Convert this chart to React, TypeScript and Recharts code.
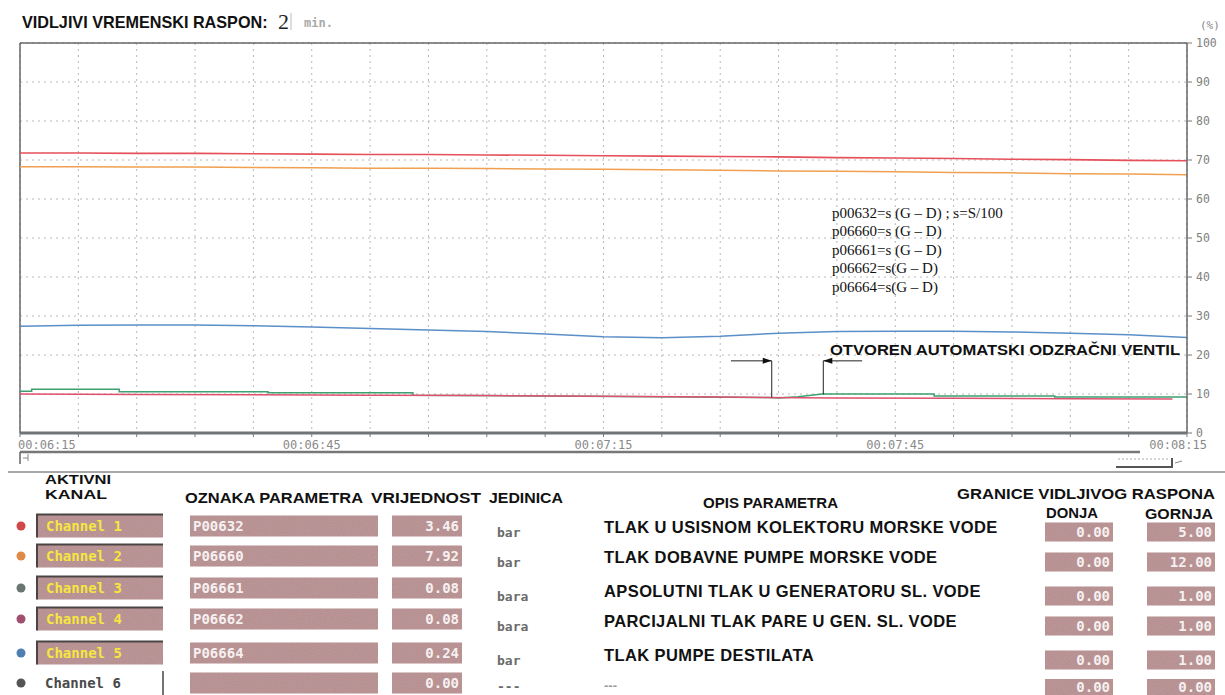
import React from "react";
import { LineChart, Line, XAxis, YAxis, CartesianGrid, ReferenceLine } from "recharts";

// ---- chart data ----
const TIME = [0, 6, 12, 18, 24, 30, 36, 42, 48, 54, 60, 66, 72, 78, 84, 90, 96, 102, 108, 114, 120];
const CH1 = [71.8, 71.8, 71.7, 71.7, 71.6, 71.5, 71.4, 71.4, 71.3, 71.2, 71.1, 71.0, 70.9, 70.8, 70.6, 70.5, 70.4, 70.2, 70.1, 69.9, 69.8];
const CH2 = [68.3, 68.3, 68.2, 68.2, 68.1, 68.0, 67.9, 67.9, 67.8, 67.7, 67.6, 67.5, 67.4, 67.2, 67.1, 67.0, 66.8, 66.7, 66.5, 66.4, 66.2];
const CH5 = [27.4, 27.6, 27.7, 27.7, 27.5, 27.2, 26.8, 26.4, 26.0, 25.4, 24.7, 24.4, 24.8, 25.6, 26.0, 26.1, 26.1, 25.9, 25.6, 25.2, 24.5];
const CH4_TIME = [0, 12, 24, 36, 48, 60, 72, 84, 96, 108, 118.5];
const CH4 = [10.0, 9.9, 9.8, 9.7, 9.6, 9.4, 9.2, 9.0, 8.9, 8.8, 8.7];
const CH3_TIME = [0, 1.2, 1.2, 10.2, 10.2, 25.5, 25.5, 40.4, 40.4, 77, 78, 80, 82.5, 94, 94, 106.4, 106.4, 120];
const CH3 = [10.7, 10.7, 11.2, 11.2, 10.6, 10.6, 10.3, 10.3, 9.7, 9.1, 9.0, 9.3, 10.0, 10.0, 9.5, 9.5, 9.2, 9.2];
const CH6_TIME = [0, 120];
const CH6 = [0, 0];
const X_TICKS = [0, 6, 12, 18, 24, 30, 36, 42, 48, 54, 60, 66, 72, 78, 84, 90, 96, 102, 108, 114, 120];
const X_LABELS = ["00:06:15", "00:06:45", "00:07:15", "00:07:45", "00:08:15"];
const Y_TICKS = [0, 10, 20, 30, 40, 50, 60, 70, 80, 90, 100];

// annotation (valve opened) in data coordinates
const VALVE_OPEN_T = 77.3;
const VALVE_CLOSE_T = 82.6;
const ARROW_Y = 18.5;
const ARROW_LEFT_START = 73.1;
const ARROW_RIGHT_START = 86.6;

// ---- table data ----
const CHANNELS = ["Channel 1", "Channel 2", "Channel 3", "Channel 4", "Channel 5", "Channel 6"];
const PARAMS = ["P00632", "P06660", "P06661", "P06662", "P06664", ""];
const VALUES = ["3.46", "7.92", "0.08", "0.08", "0.24", "0.00"];
const UNITS = ["bar", "bar", "bara", "bara", "bar", "---"];
const DESCRIPTIONS = [
  "TLAK U USISNOM KOLEKTORU MORSKE VODE",
  "TLAK DOBAVNE PUMPE MORSKE VODE",
  "APSOLUTNI TLAK U GENERATORU SL. VODE",
  "PARCIJALNI TLAK PARE U GEN. SL. VODE",
  "TLAK PUMPE DESTILATA",
  "---",
];
const LOWER = ["0.00", "0.00", "0.00", "0.00", "0.00", "0.00"];
const UPPER = ["5.00", "12.00", "1.00", "1.00", "1.00", "0.00"];
const FORMULAS = [
  "p00632=s (G – D) ; s=S/100",
  "p06660=s (G – D)",
  "p06661=s (G – D)",
  "p06662=s(G – D)",
  "p06664=s(G – D)",
];

// ---- styles ----
const COLORS = {
  ch1: "#e5505a",
  ch2: "#f0a050",
  ch3: "#3ca070",
  ch4: "#e0506e",
  ch5: "#5b8fc9",
  ch6: "#7a8a99",
};
const DOT_COLORS = ["#d04848", "#e08a48", "#6a7470", "#a0506e", "#4f7fb0", "#555555"];
const LEFT_ROW_Y = [526, 556, 588, 619, 653, 683];
const RIGHT_ROW_Y = [532, 562, 596, 626, 660, 687];
const UNIT_Y = [532, 562, 596, 626, 660, 686];
const DESC_Y = [527, 557, 591, 621, 655, 684];
const BOX_FILL = "#b3888a";
const MONO = "'DejaVu Sans Mono', monospace";
const SANS = "'Liberation Sans', Arial, sans-serif";
const SERIF = "'Liberation Serif', 'Times New Roman', serif";

const mainData = TIME.map((t, i) => ({ t, ch1: CH1[i], ch2: CH2[i], ch5: CH5[i] }));
const ch3Data = CH3_TIME.map((t, i) => ({ t, v: CH3[i] }));
const ch4Data = CH4_TIME.map((t, i) => ({ t, v: CH4[i] }));
const ch6Data = CH6_TIME.map((t, i) => ({ t, v: CH6[i] }));

const XTick = (props: any) => {
  const { x, y, payload } = props;
  const v = payload.value;
  if (v % 30 !== 0) return <g />;
  let anchor = "middle";
  let dx = 0;
  if (v === 0) {
    anchor = "start";
    dx = -2;
  }
  if (v === 120) {
    anchor = "end";
    dx = 20;
  }
  return (
    <text x={x + dx} y={y + 10} textAnchor={anchor} fontFamily={MONO} fontSize={12} fill="#8a8a8a">
      {X_LABELS[v / 30]}
    </text>
  );
};

const arrowShape = (dir: number) => (p: any) => {
  const { x1, y1, x2, y2 } = p;
  return (
    <g>
      <line x1={x1} y1={y1} x2={x2} y2={y2} stroke="#222" strokeWidth={1} />
      <polygon points={`${x2},${y2} ${x2 - dir * 9},${y2 - 3} ${x2 - dir * 9},${y2 + 3}`} fill="#111" />
    </g>
  );
};

const plainShape = (p: any) => <line x1={p.x1} y1={p.y1} x2={p.x2} y2={p.y2} stroke="#222" strokeWidth={1} />;

function Box({ x, y, w, h, text, color, align, inset }: any) {
  return (
    <g>
      <rect x={x} y={y - h / 2} width={w} height={h} fill={BOX_FILL} filter="url(#grain)" />
      {inset && (
        <path d={`M${x} ${y + h / 2} L${x} ${y - h / 2} L${x + w} ${y - h / 2}`} stroke="#4a4444" strokeWidth={2} fill="none" />
      )}
      {text !== "" && (
        <text
          x={align === "end" ? x + w - 3 : x + 3 + (inset ? 6 : 0)}
          y={y + 5}
          textAnchor={align}
          fontFamily={MONO}
          fontWeight="bold"
          fontSize={14}
          fill={color}
        >
          {text}
        </text>
      )}
    </g>
  );
}

const H = { fontFamily: SANS, fontWeight: "bold" as const, fill: "#111" };

export default function App() {
  return (
    <div style={{ position: "absolute", left: 0, top: 0, width: 1225, height: 695, background: "#fff", overflow: "hidden" }}>
      <div style={{ position: "absolute", left: 0, top: 0 }}>
        <LineChart width={1225} height={470} data={mainData} margin={{ top: 43, right: 0, bottom: 0, left: 20 }}>
          <CartesianGrid stroke="#b8b8b8" strokeDasharray="2 4" />
          <XAxis
            dataKey="t"
            type="number"
            domain={[0, 120]}
            ticks={X_TICKS}
            interval={0}
            height={37}
            tickSize={4}
            tickMargin={2}
            tick={<XTick />}
            axisLine={{ stroke: "#6f7478", strokeWidth: 3 }}
            tickLine={{ stroke: "#777" }}
            allowDuplicatedCategory={false}
          />
          <YAxis
            orientation="right"
            type="number"
            domain={[0, 100]}
            ticks={Y_TICKS}
            interval={0}
            width={38}
            tickSize={5}
            tickMargin={4}
            axisLine={{ stroke: "#666", strokeWidth: 1.5 }}
            tickLine={{ stroke: "#777" }}
            tick={{ fontFamily: MONO, fontSize: 11.5, fill: "#808080", textAnchor: "start" }}
          />
          <ReferenceLine y={100} stroke="#666" strokeWidth={1.5} />
          <ReferenceLine x={0} stroke="#666" strokeWidth={1.5} />
          <Line data={ch6Data} dataKey="v" stroke={COLORS.ch6} strokeWidth={1.5} dot={false} isAnimationActive={false} />
          <Line data={ch3Data} dataKey="v" stroke={COLORS.ch3} strokeWidth={1.5} dot={false} isAnimationActive={false} />
          <Line data={ch4Data} dataKey="v" stroke={COLORS.ch4} strokeWidth={1.5} dot={false} isAnimationActive={false} />
          <Line dataKey="ch5" stroke={COLORS.ch5} strokeWidth={1.5} dot={false} isAnimationActive={false} />
          <Line dataKey="ch2" stroke={COLORS.ch2} strokeWidth={1.5} dot={false} isAnimationActive={false} />
          <Line dataKey="ch1" stroke={COLORS.ch1} strokeWidth={1.6} dot={false} isAnimationActive={false} />
          <ReferenceLine segment={[{ x: VALVE_OPEN_T, y: ARROW_Y }, { x: VALVE_OPEN_T, y: 9.1 }]} shape={plainShape} />
          <ReferenceLine segment={[{ x: VALVE_CLOSE_T, y: ARROW_Y }, { x: VALVE_CLOSE_T, y: 9.9 }]} shape={plainShape} />
          <ReferenceLine segment={[{ x: ARROW_LEFT_START, y: ARROW_Y }, { x: VALVE_OPEN_T, y: ARROW_Y }]} shape={arrowShape(1)} />
          <ReferenceLine segment={[{ x: ARROW_RIGHT_START, y: ARROW_Y }, { x: VALVE_CLOSE_T, y: ARROW_Y }]} shape={arrowShape(-1)} />
        </LineChart>
      </div>
      <svg width={1225} height={695} style={{ position: "absolute", left: 0, top: 0, pointerEvents: "none" }}>
        <defs>
          <filter id="grain" x="0" y="0" width="100%" height="100%">
            <feTurbulence type="fractalNoise" baseFrequency="0.9" numOctaves={1} seed={3} result="n" />
            <feColorMatrix in="n" type="matrix" values="0 0 0 0 1  0 0 0 0 1  0 0 0 0 1  0 0 0 0.12 0" result="w" />
            <feComposite in="w" in2="SourceGraphic" operator="in" result="wm" />
            <feMerge>
              <feMergeNode in="SourceGraphic" />
              <feMergeNode in="wm" />
            </feMerge>
          </filter>
        </defs>
        {/* title */}
        <text x={22} y={28} fontSize={16.2} {...H}>VIDLJIVI VREMENSKI RASPON:</text>
        <text x={278} y={29} fontFamily={SERIF} fontSize={22} fill="#222">2</text>
        <line x1={291} y1={13} x2={291} y2={30} stroke="#bbb" strokeWidth={1} />
        <text x={304} y={27} fontFamily={MONO} fontWeight="bold" fontSize={12} fill="#aaa">min.</text>
        <text x={1200} y={29} fontFamily={MONO} fontSize={11} fill="#888">(%)</text>

        {/* formulas */}
        {FORMULAS.map((f, i) => (
          <text key={i} x={832} y={218 + i * 18.4} fontFamily={SERIF} fontSize={15} fill="#111">
            {f}
          </text>
        ))}
        <text x={830} y={355} fontSize={14.5} textLength={350} lengthAdjust="spacingAndGlyphs" {...H}>
          OTVOREN AUTOMATSKI ODZRAČNI VENTIL
        </text>

        {/* scrollbar decorations */}
        <line x1={20} y1={452} x2={1140} y2={452} stroke="#777" strokeWidth={2.5} />
        <path d="M20 452 L20 464" stroke="#666" strokeWidth={1.5} />
        <path d="M23 458 L28 458 M28 454 L28 461" stroke="#888" strokeWidth={1} fill="none" />
        <line x1={1118} y1={459} x2={1170} y2={459} stroke="#aaa" strokeWidth={1} strokeDasharray="2 2" />
        <path d="M1116 467 L1172 467 L1172 458" stroke="#555" strokeWidth={2} fill="none" />
        <path d="M1175 463 L1182 461" stroke="#888" strokeWidth={1} />

        {/* table top rule */}
        <line x1={8} y1={472} x2={1225} y2={472} stroke="#8a8a8a" strokeWidth={1.5} />

        {/* headers */}
        <text x={45} y={484} fontSize={13.5} textLength={66} lengthAdjust="spacingAndGlyphs" {...H}>AKTIVNI</text>
        <text x={45} y={499} fontSize={13.5} textLength={62} lengthAdjust="spacingAndGlyphs" {...H}>KANAL</text>
        <text x={185} y={503} fontSize={14} textLength={178} lengthAdjust="spacingAndGlyphs" {...H}>OZNAKA  PARAMETRA</text>
        <text x={371} y={503} fontSize={14} textLength={110} lengthAdjust="spacingAndGlyphs" {...H}>VRIJEDNOST</text>
        <text x={489} y={503} fontSize={14} textLength={74} lengthAdjust="spacingAndGlyphs" {...H}>JEDINICA</text>
        <text x={703} y={508} fontSize={14} textLength={135} lengthAdjust="spacingAndGlyphs" {...H}>OPIS PARAMETRA</text>
        <text x={957} y={499} fontSize={14} textLength={258} lengthAdjust="spacingAndGlyphs" {...H}>GRANICE VIDLJIVOG RASPONA</text>
        <text x={1046} y={518} fontSize={14} textLength={52} lengthAdjust="spacingAndGlyphs" {...H}>DONJA</text>
        <text x={1145} y={519} fontSize={14} textLength={68} lengthAdjust="spacingAndGlyphs" {...H}>GORNJA</text>

        {/* rows */}
        {CHANNELS.map((ch, i) => {
          const y = LEFT_ROW_Y[i];
          const last = i === CHANNELS.length - 1;
          return (
            <g key={ch}>
              <circle cx={21} cy={y} r={4.5} fill={DOT_COLORS[i]} />
              {last ? (
                <g>
                  <text x={45} y={y + 5} fontFamily={MONO} fontWeight="bold" fontSize={14} fill="#4a4a4a">{ch}</text>
                  <line x1={163} y1={671} x2={163} y2={695} stroke="#444" strokeWidth={1.5} />
                </g>
              ) : (
                <Box x={37} y={y} w={126} h={23} text={ch} color="#f5e640" align="start" inset />
              )}
              <Box x={190} y={y} w={188} h={21} text={PARAMS[i]} color="#f6f0f0" align="start" />
              <Box x={392} y={y} w={70} h={21} text={VALUES[i]} color="#f6f0f0" align="end" />
              <text x={497} y={UNIT_Y[i] + 5} fontFamily={MONO} fontWeight="bold" fontSize={13} fill="#6a6a6a">{UNITS[i]}</text>
              <text
                x={604}
                y={DESC_Y[i] + 6}
                fontFamily={SANS}
                fontWeight="bold"
                fontSize={i === 5 ? 13 : 16.5}
                letterSpacing={i === 5 ? 0 : 0.4}
                fill={i === 5 ? "#999" : "#111"}
              >
                {DESCRIPTIONS[i]}
              </text>
              <Box x={1045} y={RIGHT_ROW_Y[i]} w={68} h={i === 5 ? 16 : 19} text={LOWER[i]} color="#f6f0f0" align="end" />
              <Box x={1147} y={RIGHT_ROW_Y[i]} w={68} h={i === 5 ? 16 : 19} text={UPPER[i]} color="#f6f0f0" align="end" />
            </g>
          );
        })}
      </svg>
    </div>
  );
}
